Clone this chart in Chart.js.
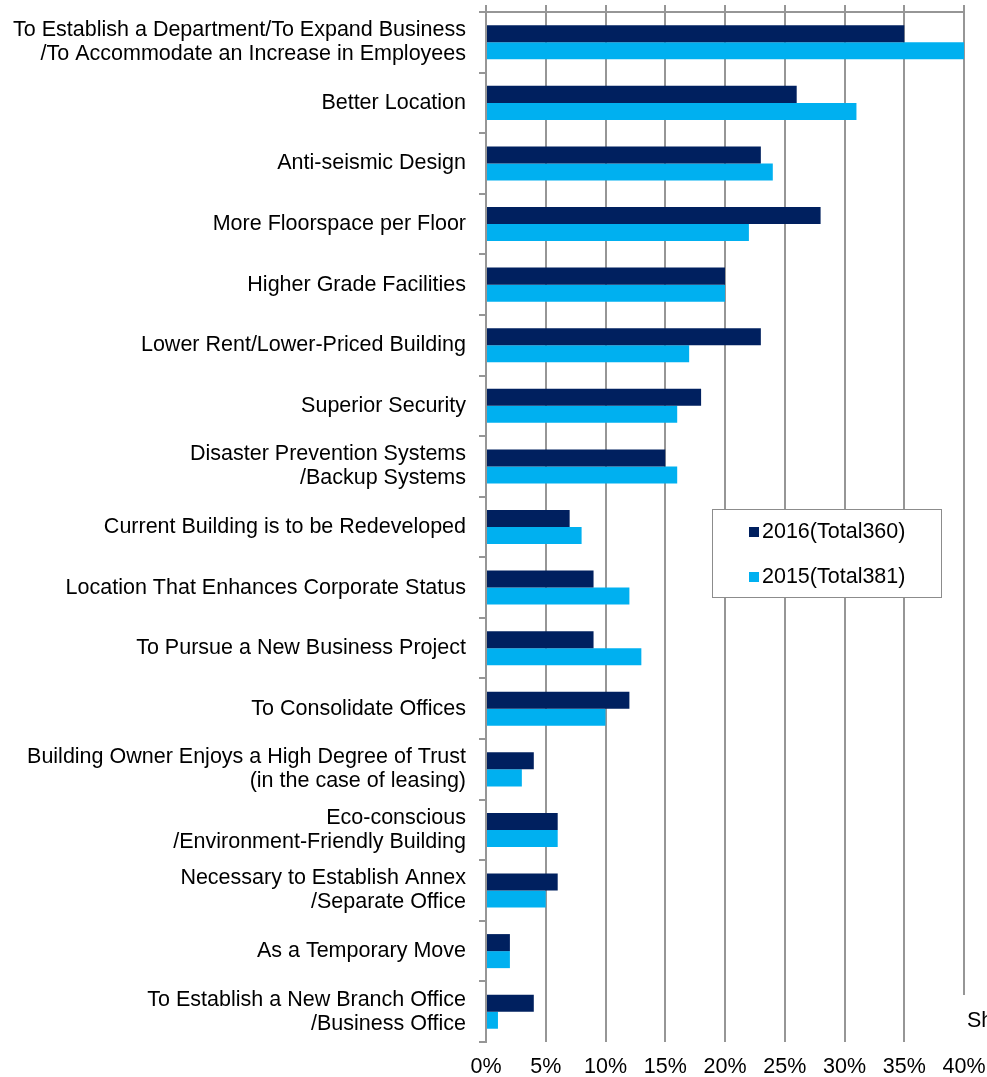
<!DOCTYPE html>
<html>
<head>
<meta charset="utf-8">
<script src="https://cdn.jsdelivr.net/npm/chart.js@4/dist/chart.umd.min.js"></script>
<style>
  html, body { margin: 0; padding: 0; background: #fff; }
  #wrap { width: 987px; height: 1077px; position: relative; }
</style>
</head>
<body>
<div id="wrap"><canvas id="c" width="987" height="1077"></canvas></div>
<script>
// Reasons for relocating: share of respondents (%)
const categories = [
  ["To Establish a Department/To Expand Business", "/To Accommodate an Increase in Employees"],
  "Better Location",
  "Anti-seismic Design",
  "More Floorspace per Floor",
  "Higher Grade Facilities",
  "Lower Rent/Lower-Priced Building",
  "Superior Security",
  ["Disaster Prevention Systems", "/Backup Systems"],
  "Current Building is to be Redeveloped",
  "Location That Enhances Corporate Status",
  "To Pursue a New Business Project",
  "To Consolidate Offices",
  ["Building Owner Enjoys a High Degree of Trust", "(in the case of leasing)"],
  ["Eco-conscious", "/Environment-Friendly Building"],
  ["Necessary to Establish Annex", "/Separate Office"],
  "As a Temporary Move",
  ["To Establish a New Branch Office", "/Business Office"]
];
const values2016 = [35, 26, 23, 28, 20, 23, 18, 15, 7, 9, 9, 12, 4, 6, 6, 2, 4];
const values2015 = [40, 31, 24, 22, 20, 17, 16, 16, 8, 12, 13, 10, 3, 6, 5, 2, 1];
const seriesLabels = ["2016(Total360)", "2015(Total381)"];
const seriesColors = ["#00205f", "#00b0f0"];
const axisMax = 40;
const axisStep = 5;
const axisTitle = "Share";

const FONT = "'Liberation Sans', Arial, sans-serif";
const FSIZE = 21.5;
const GRID = "#969696";

// Boxed legend and cut-off axis title drawn on top of the plot
const overlay = {
  id: 'overlay',
  afterDraw(chart) {
    const ctx = chart.ctx;
    ctx.save();
    // axis title
    ctx.fillStyle = '#fff';
    ctx.fillRect(957, 995, 30, 47);
    ctx.fillStyle = '#000';
    ctx.font = FSIZE + 'px ' + FONT;
    ctx.textBaseline = 'middle';
    ctx.textAlign = 'left';
    ctx.fillText(axisTitle, 967, 1021);
    // legend box
    ctx.fillStyle = '#fff';
    ctx.fillRect(712.5, 509.5, 229, 88);
    ctx.strokeStyle = '#8c8c8c';
    ctx.lineWidth = 1;
    ctx.strokeRect(712.5, 509.5, 229, 88);
    const rows = [531, 576];
    chart.data.datasets.forEach((ds, i) => {
      ctx.fillStyle = ds.backgroundColor;
      ctx.fillRect(749, rows[i] - 4, 10, 10);
      ctx.fillStyle = '#000';
      ctx.fillText(ds.label, 762, rows[i] + 1);
    });
    ctx.restore();
  }
};

new Chart(document.getElementById('c'), {
  type: 'bar',
  data: {
    labels: categories,
    datasets: [
      { label: seriesLabels[0], data: values2016, backgroundColor: seriesColors[0], xAxisID: 'x' },
      { label: seriesLabels[1], data: values2015, backgroundColor: seriesColors[1], xAxisID: 'x' }
    ]
  },
  options: {
    indexAxis: 'y',
    responsive: false,
    animation: false,
    layout: { padding: { left: 0, right: 23, top: 0, bottom: 0 } },
    datasets: { bar: { categoryPercentage: 0.562, barPercentage: 1.0 } },
    plugins: { legend: { display: false }, tooltip: { enabled: false } },
    scales: {
      x: {
        position: 'bottom',
        min: 0, max: axisMax,
        ticks: {
          stepSize: axisStep,
          color: '#000',
          font: { family: FONT, size: FSIZE },
          padding: 12,
          callback: v => v + '%'
        },
        grid: { color: GRID, lineWidth: 2, drawTicks: false },
        border: { display: false },
        afterFit(s) { s.height = 35; s.paddingLeft = 0; s.paddingRight = 0; }
      },
      x2: {
        type: 'linear',
        position: 'top',
        min: 0, max: axisMax,
        ticks: { stepSize: axisStep, display: false },
        grid: { color: GRID, lineWidth: 2, drawOnChartArea: false, drawTicks: true, tickLength: 7 },
        border: { display: true, color: GRID, width: 2 },
        afterFit(s) { s.height = 12; s.paddingLeft = 0; s.paddingRight = 0; }
      },
      y: {
        position: 'left',
        offset: true,
        ticks: {
          color: '#000',
          font: { family: FONT, size: FSIZE, lineHeight: 1.12 },
          padding: 13,
          autoSkip: false
        },
        grid: { color: GRID, lineWidth: 2, offset: true, drawOnChartArea: false, drawTicks: true, tickLength: 7 },
        border: { display: true, color: GRID, width: 2 },
        afterFit(s) { s.width = 486; s.paddingTop = 0; s.paddingBottom = 0; }
      }
    }
  },
  plugins: [overlay]
});
</script>
</body>
</html>
